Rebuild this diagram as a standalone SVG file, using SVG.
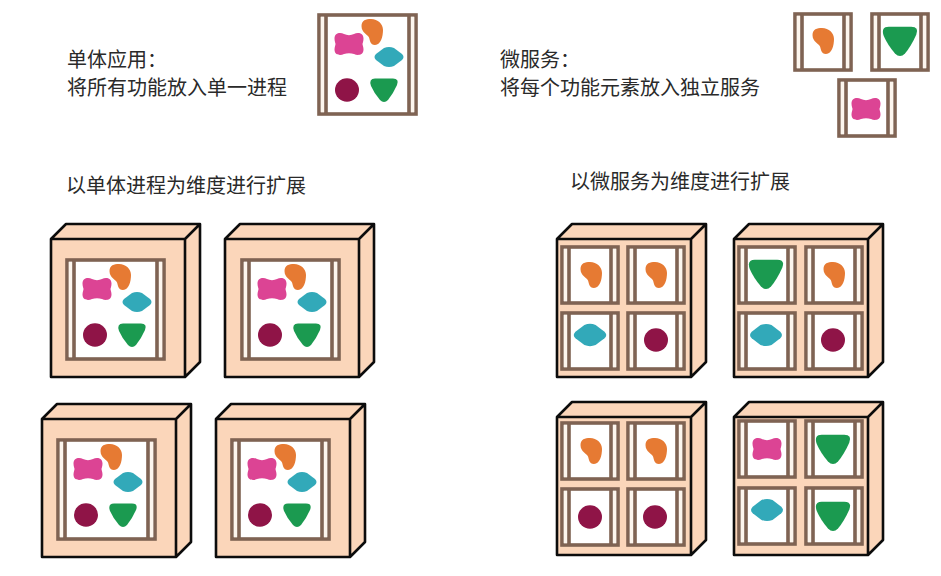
<svg xmlns="http://www.w3.org/2000/svg" width="941" height="576" viewBox="0 0 941 576">
<style>
text{font-family:"Noto Sans CJK SC","Liberation Sans",sans-serif;font-size:20px;fill:#2a2a2a}
.box{fill:#fbd6ba;stroke:#0c0c0c;stroke-width:2.6;stroke-linejoin:round}
.fr{fill:#fff;stroke:#7f6353;stroke-width:3.6}
.in{fill:none;stroke:#7f6353;stroke-width:3.6}
.gap{fill:#fdf6ee}
.orange{fill:#e67a33}.pink{fill:#dc4494}.teal{fill:#32a9b9}.maroon{fill:#8f1447}.green{fill:#1b9a50}
</style>
<defs>
<path id="sOrange" class="orange" d="M-10.5,-6C-10.5,-12-6,-13-1,-13C6,-13 11,-8 11,-2C11,4 9,13 3,13C-2,13-2,8-3,5.500C-4,2.500-10.500,1-10.500,-6Z"/>
<path id="sPink" class="pink" d="M-14.500,-5.500C-14.500,-11-9,-12-5,-10C-2,-8.500 2,-8.500 5,-10C9,-12 14.500,-11 14.500,-5.500C14.500,-2.500 13.500,-1 13.500,0C13.500,1 14.500,3 14.500,5.500C14.500,11 9,12 5,10C2,9-2,9-5,10C-9,12-14.500,11-14.500,5.500C-14.500,3-13.500,1-13.500,0C-13.500,-1-14.500,-2.500-14.500,-5.500Z"/>
<path id="sTeal" class="teal" d="M-13,-3L-5,-9Q0,-11 5,-9L13,-3Q16,0 13,3L5,9Q0,11-5,9L-13,3Q-16,0-13,-3Z"/>
<ellipse id="sMaroon" class="maroon" rx="12" ry="11.700"/>
<path id="sGreen" class="green" d="M-9,-11.500H9Q15.500,-11.500 13,-5Q9,4 4,10Q0,14-4,10Q-10,3-13,-4Q-15.500,-11.500-9,-11.500Z"/>
<g id="mono">
<rect class="fr" x="0" y="0" width="97" height="99"/>
<rect class="gap" x="1.800" y="1.800" width="3.400" height="95.400"/>
<rect class="gap" x="91.800" y="1.800" width="3.400" height="95.400"/>
<path class="in" d="M7,0V99M90,0V99"/>
<use href="#sOrange" x="53" y="17"/>
<use href="#sPink" x="30" y="29"/>
<use href="#sTeal" x="70" y="42"/>
<use href="#sMaroon" x="28" y="75"/>
<use href="#sGreen" x="65" y="75"/>
</g>
<g id="micro">
<rect class="fr" x="0" y="0" width="56" height="56"/>
<rect class="gap" x="1.800" y="1.800" width="3.400" height="52.400"/>
<rect class="gap" x="50.800" y="1.800" width="3.400" height="52.400"/>
<path class="in" d="M7,0V56M49,0V56"/>
</g>
<path id="cube" class="box" d="M0,0L15,-15H149V123L134,138H0ZM0,0H134V138M134,0L149,-15"/>
</defs>
<rect width="941" height="576" fill="#fff"/>

<g id="label-mono"><text x="67" y="67">单体应用：</text><text x="67" y="95">将所有功能放入单一进程</text></g>
<g id="label-micro"><text x="500" y="67">微服务：</text><text x="500" y="95">将每个功能元素放入独立服务</text></g>
<g id="label-scale-mono"><text x="66" y="193">以单体进程为维度进行扩展</text></g>
<g id="label-scale-micro"><text x="570" y="189">以微服务为维度进行扩展</text></g>

<g id="mono-app"><use href="#mono" x="319" y="15"/></g>

<g id="micro-orange"><use href="#micro" x="795" y="14"/><use href="#sOrange" x="823" y="41"/></g>
<g id="micro-green"><use href="#micro" x="872" y="14"/><use href="#sGreen" transform="translate(900,41) scale(1.25)"/></g>
<g id="micro-pink"><use href="#micro" x="839" y="80"/><use href="#sPink" x="866" y="109"/></g>

<g id="server-1"><use href="#cube" x="51" y="239"/><use href="#mono" x="67" y="260"/></g>
<g id="server-2"><use href="#cube" x="225" y="239"/><use href="#mono" x="242" y="260"/></g>
<g id="server-3"><use href="#cube" x="42" y="419"/><use href="#mono" x="58" y="440"/></g>
<g id="server-4"><use href="#cube" x="216" y="419"/><use href="#mono" x="232" y="440"/></g>

<g id="server-5"><use href="#cube" x="557" y="239"/>
<use href="#micro" x="562" y="247"/><use href="#micro" x="628" y="247"/><use href="#micro" x="562" y="313"/><use href="#micro" x="628" y="313"/>
<use href="#sOrange" x="591" y="275"/><use href="#sOrange" x="656" y="275"/>
<use href="#sTeal" transform="translate(590,335) scale(1.12)"/><use href="#sMaroon" x="656" y="340"/></g>

<g id="server-6"><use href="#cube" x="734" y="239"/>
<use href="#micro" x="739" y="247"/><use href="#micro" x="806" y="247"/><use href="#micro" x="739" y="313"/><use href="#micro" x="806" y="313"/>
<use href="#sGreen" transform="translate(766,274) scale(1.25)"/><use href="#sOrange" x="834" y="275"/>
<use href="#sTeal" transform="translate(766,335) scale(1.1)"/><use href="#sMaroon" x="833" y="340"/></g>

<g id="server-7"><use href="#cube" x="557" y="417"/>
<use href="#micro" x="562" y="423"/><use href="#micro" x="628" y="423"/><use href="#micro" x="562" y="489"/><use href="#micro" x="628" y="489"/>
<use href="#sOrange" x="591" y="451"/><use href="#sOrange" x="656" y="451"/>
<use href="#sMaroon" x="590" y="517"/><use href="#sMaroon" x="655" y="517"/></g>

<g id="server-8"><use href="#cube" x="734" y="417"/>
<use href="#micro" x="739" y="421"/><use href="#micro" x="806" y="421"/><use href="#micro" x="739" y="488"/><use href="#micro" x="806" y="488"/>
<use href="#sPink" x="767" y="449"/><use href="#sGreen" transform="translate(833,449) scale(1.25)"/>
<use href="#sTeal" transform="translate(767,510) scale(1.1)"/><use href="#sGreen" transform="translate(833,516) scale(1.25)"/></g>
</svg>
